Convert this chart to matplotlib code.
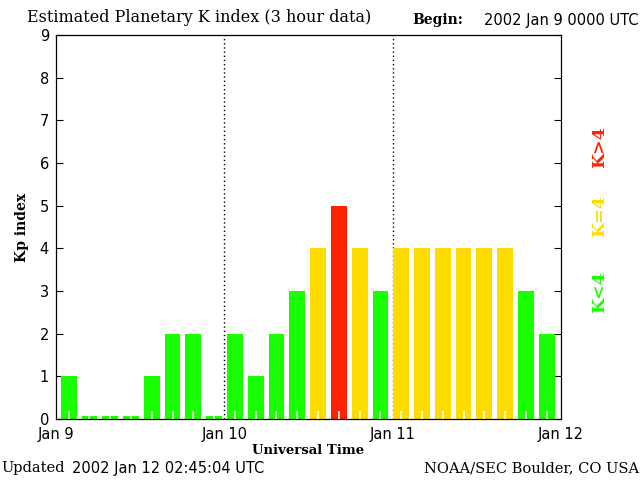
import matplotlib
matplotlib.use("Agg")
import matplotlib.pyplot as plt

# 3-hour Kp values, Jan 9 00 UT .. Jan 11 21 UT
hours = list(range(0, 72, 3))
kp = [1, 0, 0, 0, 1, 2, 2, 0,
      2, 1, 2, 3, 4, 5, 4, 3,
      4, 4, 4, 4, 4, 4, 3, 2]
day_ticks = [0, 24, 48, 72]
day_labels = ["Jan 9", "Jan 10", "Jan 11", "Jan 12"]

GREEN = "#19ff00"
YELLOW = "#ffdc00"
RED = "#ff2200"


def kp_color(k):
    if k < 4:
        return GREEN
    if k == 4:
        return YELLOW
    return RED


fig = plt.figure(figsize=(6.4, 4.8), dpi=100)
ax = fig.add_axes([0.0875, 0.127, 0.789, 0.8])

# zero values are drawn as a small stub
heights = [k if k > 0 else 0.08 for k in kp]
centers = [h + 1.5 + 0.3 - 0.012 * h for h in hours]
ax.bar(centers, heights, width=2.25, color=[kp_color(k) for k in kp],
       align="center", zorder=2)
ax.vlines(centers, 0, 0.2, colors="white", linewidth=1.2, zorder=3)

for d in day_ticks[1:3]:
    ax.axvline(d, color="black", linestyle=(0, (1, 2)), linewidth=1, zorder=1)

ax.set_xlim(0, 72)
ax.set_ylim(0, 9)
ax.set_xticks(day_ticks)
ax.set_xticklabels(day_labels)
ax.set_yticks(range(10))
ax.tick_params(axis="x", length=0, pad=6, labelsize=10.5)
ax.tick_params(axis="y", direction="in", length=5, width=0.8, left=True,
               right=True, labelsize=10.5, pad=5)
for s in ax.spines.values():
    s.set_linewidth(0.9)

ax.set_xlabel("Universal Time", family="DejaVu Serif", fontweight="bold",
              fontsize=9.5, labelpad=1)
ax.set_ylabel("Kp index", family="DejaVu Serif", fontweight="bold",
              fontsize=10, labelpad=8)

fig.text(27 / 640, 1 - 18 / 480, "Estimated Planetary K index (3 hour data)",
         family="DejaVu Serif", fontsize=11.5, va="center", ha="left")
fig.text(412 / 640, 1 - 20 / 480, "Begin:", family="DejaVu Serif",
         fontweight="bold", fontsize=10, va="center", ha="left")
fig.text(639 / 640, 1 - 20 / 480, "2002 Jan 9 0000 UTC", fontsize=10.5,
         va="center", ha="right")

fig.text(1 / 640, 1 - 468 / 480, "Updated", family="DejaVu Serif",
         fontsize=10.5, va="center", ha="left")
fig.text(72 / 640, 1 - 468 / 480, "2002 Jan 12 02:45:04 UTC", fontsize=10.5,
         va="center", ha="left")
fig.text(639 / 640, 1 - 468 / 480, "NOAA/SEC Boulder, CO USA",
         family="DejaVu Serif", fontsize=10.5, va="center", ha="right")

for label, col, yc in [("K>4", RED, 147), ("K=4", YELLOW, 216), ("K<4", GREEN, 292)]:
    fig.text(600 / 640, 1 - yc / 480, label, color=col, rotation=90,
             family="DejaVu Serif", fontweight="bold", fontsize=12.5,
             va="center", ha="center")

fig.savefig("out.png", dpi=100)
